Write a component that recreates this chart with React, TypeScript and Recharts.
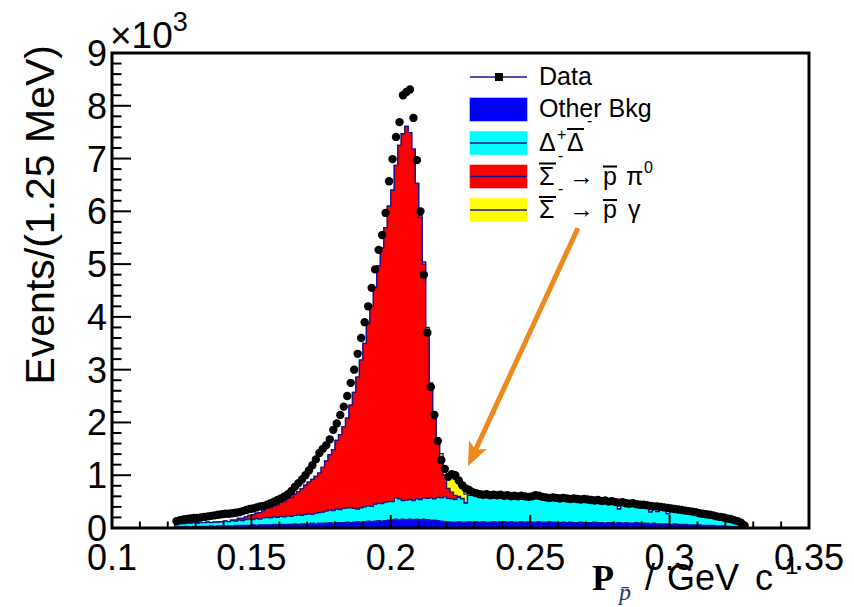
import React from 'react';
import {
  ComposedChart,
  Area,
  Scatter,
  XAxis,
  YAxis,
  ReferenceArea,
  ReferenceLine,
  Legend,
  Label,
} from 'recharts';

// ---------- data (values in units of 10^3 events per 1.25 MeV bin) ----------
const BIN_START = 0.1225;
const BIN_WIDTH = 0.00125;

const dataEvents = [
  0.13, 0.15, 0.16, 0.17, 0.18, 0.19, 0.19, 0.2, 0.21, 0.22,
  0.23, 0.24, 0.25, 0.26, 0.27, 0.27, 0.28, 0.29, 0.3, 0.32,
  0.34, 0.36, 0.37, 0.39, 0.41, 0.42, 0.44, 0.47, 0.5, 0.53,
  0.56, 0.6, 0.64, 0.7, 0.78, 0.85, 0.92, 1.0, 1.09, 1.19,
  1.3, 1.42, 1.5, 1.57, 1.68, 1.86, 1.98, 2.14, 2.3, 2.5,
  2.75, 3.0, 3.3, 3.6, 3.9, 4.2, 4.55, 4.9, 5.27, 5.55,
  5.97, 6.57, 6.99, 7.41, 7.69, 8.2, 8.26, 8.31, 7.77, 6.97,
  6.0, 4.8, 3.7, 2.67, 2.14, 1.65, 1.29, 1.12, 0.97, 1.02,
  1.0, 0.9, 0.81, 0.75, 0.72, 0.68, 0.66, 0.64, 0.63, 0.64,
  0.62, 0.63, 0.62, 0.63, 0.61, 0.62, 0.6, 0.61, 0.6, 0.61,
  0.6, 0.59, 0.6, 0.62, 0.61, 0.59, 0.58, 0.57, 0.58, 0.57,
  0.56, 0.57, 0.56, 0.55, 0.56, 0.55, 0.54, 0.55, 0.54, 0.53,
  0.52, 0.53, 0.51, 0.52, 0.5, 0.51, 0.49, 0.48, 0.49, 0.47,
  0.46, 0.47, 0.45, 0.44, 0.44, 0.43, 0.42, 0.41, 0.41, 0.4,
  0.39, 0.38, 0.37, 0.36, 0.35, 0.34, 0.33, 0.32, 0.31, 0.3,
  0.28, 0.27, 0.26, 0.25, 0.24, 0.22, 0.21, 0.2, 0.18, 0.17,
  0.15, 0.13, 0.1, 0.05,
];

// stack heights (top edge of each layer of the stacked MC histogram)
const otherBkgTop = [
  0.02, 0.02, 0.02, 0.03, 0.02, 0.03, 0.03, 0.03, 0.03, 0.03,
  0.04, 0.03, 0.04, 0.04, 0.04, 0.04, 0.04, 0.05, 0.05, 0.05,
  0.05, 0.05, 0.06, 0.05, 0.06, 0.06, 0.06, 0.06, 0.07, 0.06,
  0.07, 0.07, 0.07, 0.07, 0.08, 0.07, 0.08, 0.08, 0.08, 0.09,
  0.08, 0.09, 0.09, 0.09, 0.1, 0.09, 0.1, 0.1, 0.1, 0.11,
  0.1, 0.11, 0.12, 0.11, 0.12, 0.13, 0.12, 0.13, 0.14, 0.13,
  0.14, 0.15, 0.16, 0.17, 0.16, 0.17, 0.16, 0.17, 0.16, 0.17,
  0.16, 0.17, 0.16, 0.15, 0.15, 0.14, 0.13, 0.12, 0.12, 0.11,
  0.11, 0.12, 0.11, 0.11, 0.12, 0.11, 0.12, 0.11, 0.12, 0.11,
  0.11, 0.12, 0.11, 0.12, 0.12, 0.11, 0.12, 0.11, 0.11, 0.12,
  0.11, 0.12, 0.11, 0.11, 0.12, 0.11, 0.11, 0.12, 0.11, 0.11,
  0.1, 0.11, 0.1, 0.11, 0.1, 0.1, 0.11, 0.1, 0.1, 0.1,
  0.11, 0.1, 0.1, 0.09, 0.1, 0.1, 0.09, 0.1, 0.09, 0.1,
  0.09, 0.09, 0.1, 0.09, 0.09, 0.09, 0.08, 0.09, 0.08, 0.08,
  0.08, 0.08, 0.07, 0.08, 0.07, 0.07, 0.07, 0.06, 0.06, 0.06,
  0.06, 0.05, 0.05, 0.05, 0.05, 0.04, 0.04, 0.04, 0.03, 0.03,
  0.03, 0.02, 0.02, 0.01,
];

const deltaTop = [
  0.06, 0.08, 0.08, 0.09, 0.09, 0.1, 0.09, 0.1, 0.1, 0.11,
  0.1, 0.11, 0.11, 0.12, 0.13, 0.12, 0.14, 0.13, 0.15, 0.14,
  0.16, 0.17, 0.16, 0.18, 0.17, 0.19, 0.2, 0.19, 0.21, 0.2,
  0.22, 0.21, 0.23, 0.22, 0.24, 0.25, 0.24, 0.26, 0.27, 0.26,
  0.28, 0.29, 0.3, 0.32, 0.34, 0.33, 0.36, 0.35, 0.37, 0.38,
  0.38, 0.37, 0.36, 0.38, 0.4, 0.42, 0.41, 0.45, 0.47, 0.46,
  0.49, 0.5, 0.5, 0.57, 0.55, 0.52, 0.53, 0.54, 0.52, 0.55,
  0.54, 0.57, 0.56, 0.57, 0.55, 0.58, 0.57, 0.59, 0.56, 0.55,
  0.54, 0.58, 0.55, 0.47, 0.62, 0.64, 0.63, 0.62, 0.6, 0.62,
  0.6, 0.61, 0.6, 0.62, 0.59, 0.6, 0.59, 0.6, 0.58, 0.6,
  0.59, 0.57, 0.6, 0.65, 0.64, 0.57, 0.57, 0.55, 0.56, 0.55,
  0.51, 0.52, 0.51, 0.5, 0.51, 0.5, 0.49, 0.5, 0.49, 0.48,
  0.47, 0.48, 0.46, 0.47, 0.45, 0.46, 0.44, 0.36, 0.44, 0.42,
  0.41, 0.42, 0.4, 0.39, 0.39, 0.38, 0.3, 0.36, 0.31, 0.35,
  0.34, 0.27, 0.32, 0.31, 0.3, 0.29, 0.28, 0.27, 0.26, 0.25,
  0.23, 0.22, 0.21, 0.2, 0.19, 0.17, 0.16, 0.15, 0.13, 0.12,
  0.1, 0.08, 0.06, 0.03,
];

const sigmaPi0Top = [
  0.06, 0.08, 0.08, 0.09, 0.09, 0.1, 0.09, 0.1, 0.1, 0.11,
  0.1, 0.11, 0.11, 0.12, 0.13, 0.12, 0.15, 0.15, 0.18, 0.18,
  0.21, 0.24, 0.25, 0.28, 0.29, 0.33, 0.37, 0.38, 0.42, 0.44,
  0.49, 0.51, 0.56, 0.58, 0.64, 0.69, 0.74, 0.81, 0.87, 0.92,
  0.98, 1.04, 1.15, 1.27, 1.39, 1.48, 1.66, 1.77, 1.92, 2.08,
  2.33, 2.57, 2.86, 3.18, 3.5, 3.87, 4.21, 4.55, 4.97, 5.31,
  5.69, 6.1, 6.4, 6.87, 7.25, 7.47, 7.61, 7.49, 7.18, 6.53,
  5.89, 5.0, 3.75, 2.7, 2.14, 1.6, 1.29, 1.0, 0.75, 0.68,
  0.62, 0.6, 0.56, 0.48, 0.62, 0.64, 0.63, 0.62, 0.6, 0.62,
  0.6, 0.61, 0.6, 0.62, 0.59, 0.6, 0.59, 0.6, 0.58, 0.6,
  0.59, 0.57, 0.6, 0.65, 0.64, 0.57, 0.57, 0.55, 0.56, 0.55,
  0.51, 0.52, 0.51, 0.5, 0.51, 0.5, 0.49, 0.5, 0.49, 0.48,
  0.47, 0.48, 0.46, 0.47, 0.45, 0.46, 0.44, 0.36, 0.44, 0.42,
  0.41, 0.42, 0.4, 0.39, 0.39, 0.38, 0.3, 0.36, 0.31, 0.35,
  0.34, 0.27, 0.32, 0.31, 0.3, 0.29, 0.28, 0.27, 0.26, 0.25,
  0.23, 0.22, 0.21, 0.2, 0.19, 0.17, 0.16, 0.15, 0.13, 0.12,
  0.1, 0.08, 0.06, 0.03,
];

const sigmaGammaTop = [
  0.06, 0.08, 0.08, 0.09, 0.09, 0.1, 0.09, 0.1, 0.1, 0.11,
  0.1, 0.11, 0.11, 0.12, 0.13, 0.12, 0.15, 0.15, 0.18, 0.18,
  0.21, 0.24, 0.25, 0.28, 0.29, 0.33, 0.37, 0.38, 0.42, 0.44,
  0.49, 0.51, 0.56, 0.58, 0.64, 0.69, 0.74, 0.81, 0.87, 0.92,
  0.98, 1.04, 1.15, 1.27, 1.39, 1.48, 1.66, 1.77, 1.92, 2.08,
  2.33, 2.57, 2.86, 3.18, 3.5, 3.87, 4.21, 4.55, 4.97, 5.31,
  5.69, 6.1, 6.4, 6.87, 7.25, 7.47, 7.61, 7.49, 7.18, 6.53,
  5.92, 5.04, 3.8, 2.75, 2.2, 1.68, 1.41, 1.15, 0.95, 0.96,
  0.92, 0.9, 0.76, 0.64, 0.67, 0.66, 0.63, 0.62, 0.6, 0.62,
  0.6, 0.61, 0.6, 0.62, 0.59, 0.6, 0.59, 0.6, 0.58, 0.6,
  0.59, 0.57, 0.6, 0.65, 0.64, 0.57, 0.57, 0.55, 0.56, 0.55,
  0.51, 0.52, 0.51, 0.5, 0.51, 0.5, 0.49, 0.5, 0.49, 0.48,
  0.47, 0.48, 0.46, 0.47, 0.45, 0.46, 0.44, 0.36, 0.44, 0.42,
  0.41, 0.42, 0.4, 0.39, 0.39, 0.38, 0.3, 0.36, 0.31, 0.35,
  0.34, 0.27, 0.32, 0.31, 0.3, 0.29, 0.28, 0.27, 0.26, 0.25,
  0.23, 0.22, 0.21, 0.2, 0.19, 0.17, 0.16, 0.15, 0.13, 0.12,
  0.1, 0.08, 0.06, 0.03,
];

const xMajorTicks = [0.1, 0.15, 0.2, 0.25, 0.3, 0.35];
const xMinorTicks = [
  0.11, 0.12, 0.13, 0.14, 0.16, 0.17, 0.18, 0.19, 0.21, 0.22,
  0.23, 0.24, 0.26, 0.27, 0.28, 0.29, 0.31, 0.32, 0.33, 0.34,
];
const yMajorTicks = [0, 1, 2, 3, 4, 5, 6, 7, 8, 9];
const yMinorTicks = [
  0.2, 0.4, 0.6, 0.8, 1.2, 1.4, 1.6, 1.8, 2.2, 2.4, 2.6, 2.8,
  3.2, 3.4, 3.6, 3.8, 4.2, 4.4, 4.6, 4.8, 5.2, 5.4, 5.6, 5.8,
  6.2, 6.4, 6.6, 6.8, 7.2, 7.4, 7.6, 7.8, 8.2, 8.4, 8.6, 8.8,
];

// annotation arrow (data coordinates)
const arrowFrom = { x: 0.2671, y: 5.68 };
const arrowTo = { x: 0.2277, y: 1.17 };

// ---------- styling ----------
const FONT = '"Liberation Sans", Arial, Helvetica, sans-serif';
const SERIF = '"Liberation Serif", "Times New Roman", serif';
const NAVY = '#14148a';
const C_BLUE = '#0000ff';
const C_CYAN = '#00ffff';
const C_RED = '#ff0000';
const C_YELLOW = '#ffff00';
const C_ARROW = '#ec8a1d';

// ---------- rows built from the arrays ----------
const zeroRow = (x: number) => ({ x, other: 0, delta: 0, spi0: 0, sgam: 0 });
const histRows = [
  zeroRow(0.1),
  ...dataEvents.map((_, i) => ({
    x: BIN_START + i * BIN_WIDTH,
    other: otherBkgTop[i],
    delta: deltaTop[i],
    spi0: sigmaPi0Top[i],
    sgam: sigmaGammaTop[i],
  })),
  zeroRow(BIN_START + dataEvents.length * BIN_WIDTH),
  zeroRow(0.35),
];
const pointRows = dataEvents.map((v, i) => ({
  x: BIN_START + (i + 0.5) * BIN_WIDTH,
  ev: v,
}));

const xTicks = [...xMajorTicks, ...xMinorTicks].sort((a, b) => a - b);
const yTicks = [...yMajorTicks, ...yMinorTicks].sort((a, b) => a - b);

const isMajor = (list: number[], v: number) => list.some((m) => Math.abs(m - v) < 1e-9);

const XTick = (props: any) => {
  const { x, y, payload } = props;
  const v = payload.value;
  const major = isMajor(xMajorTicks, v);
  return (
    <g>
      <line x1={x} x2={x} y1={y} y2={y - (major ? 13 : 6.5)} stroke="#000" strokeWidth={2} />
      {major && (
        <text x={x} y={y + 42} textAnchor="middle" fontSize={36} fontFamily={FONT} fill="#000">
          {String(v)}
        </text>
      )}
    </g>
  );
};

const YTick = (props: any) => {
  const { x, y, payload } = props;
  const v = payload.value;
  const major = isMajor(yMajorTicks, v);
  return (
    <g>
      <line x1={x} x2={x + (major ? 19 : 9.5)} y1={y} y2={y} stroke="#000" strokeWidth={2} />
      {major && (
        <text x={x - 5} y={y + 13} textAnchor="end" fontSize={36} fontFamily={FONT} fill="#000">
          {String(v)}
        </text>
      )}
    </g>
  );
};

const YTitle = (props: any) => {
  const vb = props.viewBox || { x: 0, y: 45, width: 104, height: 475 };
  const ax = vb.x + vb.width;
  const tx = vb.x + 46;
  const ty = vb.y - 8;
  return (
    <g>
      <text
        x={tx}
        y={ty}
        transform={`rotate(-90 ${tx} ${ty})`}
        textAnchor="end"
        fontSize={41}
        fontFamily={FONT}
        fill="#000"
      >
        Events/(1.25 MeV)
      </text>
      <text x={ax - 2} y={vb.y - 5} fontSize={37} fontFamily={FONT} fill="#000">
        ×10
        <tspan fontSize={27} dy={-17}>3</tspan>
      </text>
    </g>
  );
};

const XTitle = (props: any) => {
  const vb = props.viewBox || { x: 104, y: 520, width: 697, height: 79 };
  const x0 = vb.x + vb.width - 217;
  const base = vb.y + 62;
  return (
    <g fill="#000">
      <text x={x0} y={base} fontSize={36} fontFamily={SERIF} fontWeight="bold">P</text>
      <text x={x0 + 27} y={base + 10} fontSize={24} fontFamily={SERIF} fontStyle="italic" fill="#2a3470">
        p̄
      </text>
      <text x={x0 + 53} y={base} fontSize={36} fontFamily={FONT}>/</text>
      <text x={x0 + 75} y={base} fontSize={36} fontFamily={FONT}>GeV</text>
      <text x={x0 + 163} y={base} fontSize={36} fontFamily={FONT}>c</text>
      <text x={x0 + 185} y={base - 16} fontSize={24} fontFamily={FONT}>-1</text>
    </g>
  );
};

const DataDot = (props: any) => {
  const { cx, cy } = props;
  if (cx == null || cy == null) return null;
  return <circle cx={cx} cy={cy} r={4.2} fill="#000" />;
};

const ArrowShape = (props: any) => {
  const { x1, y1, x2, y2 } = props;
  if ([x1, y1, x2, y2].some((v) => v == null || Number.isNaN(v))) return null;
  const dx = x2 - x1;
  const dy = y2 - y1;
  const len = Math.sqrt(dx * dx + dy * dy) || 1;
  const ux = dx / len;
  const uy = dy / len;
  const head = 24;
  const half = 10;
  const bx = x2 - ux * head;
  const by = y2 - uy * head;
  const px = -uy;
  const py = ux;
  const nx = x2 - ux * (head - 6);
  const ny = y2 - uy * (head - 6);
  return (
    <g>
      <line x1={x1} y1={y1} x2={nx} y2={ny} stroke={C_ARROW} strokeWidth={5} />
      <polygon
        points={`${x2},${y2} ${bx + px * half},${by + py * half} ${nx},${ny} ${bx - px * half},${by - py * half}`}
        fill={C_ARROW}
      />
    </g>
  );
};

const LegendBox = () => {
  const rows = [19, 51.5, 85, 118.5, 152];
  const box = (cy: number, color: string) => (
    <g>
      <rect x={8} y={cy - 11.5} width={57} height={23} fill={color} stroke={color} strokeOpacity={0.6} />
      <line x1={8} x2={65} y1={cy} y2={cy} stroke={NAVY} strokeWidth={1.5} />
    </g>
  );
  const tStyle = { fontSize: 25, fontFamily: FONT, fill: '#000' } as const;
  const sup = { fontSize: 16, fontFamily: FONT, fill: '#000' } as const;
  return (
    <svg width={280} height={180} style={{ display: 'block', overflow: 'visible' }}>
      <line x1={8} x2={65} y1={rows[0]} y2={rows[0]} stroke={NAVY} strokeWidth={1.5} />
      <rect x={33} y={rows[0] - 4} width={8} height={8} fill="#000" />
      <text x={77} y={rows[0] + 8} {...tStyle}>Data</text>

      {box(rows[1], C_BLUE)}
      <text x={77} y={rows[1] + 7} {...tStyle}>Other Bkg</text>

      {box(rows[2], C_CYAN)}
      <text x={77} y={rows[2] + 8} {...tStyle}>Δ</text>
      <text x={95} y={rows[2] - 3} {...sup}>+</text>
      <text x={105} y={rows[2] + 8} {...tStyle}>Δ</text>
      <line x1={105} x2={122} y1={rows[2] - 14} y2={rows[2] - 14} stroke="#000" strokeWidth={2} />
      <text x={125} y={rows[2] - 17} {...sup}>-</text>

      {box(rows[3], C_RED)}
      <text x={77} y={rows[3] + 8} {...tStyle}>Σ</text>
      <line x1={77} x2={94} y1={rows[3] - 13} y2={rows[3] - 13} stroke="#000" strokeWidth={2} />
      <text x={96} y={rows[3] - 16} {...sup}>-</text>
      <text x={107} y={rows[3] + 8} {...tStyle}>→</text>
      <text x={141} y={rows[3] + 8} {...tStyle}>p</text>
      <line x1={141} x2={155} y1={rows[3] - 10} y2={rows[3] - 10} stroke="#000" strokeWidth={2} />
      <text x={164} y={rows[3] + 8} {...tStyle}>π</text>
      <text x={182} y={rows[3] - 4} {...sup}>0</text>

      {box(rows[4], C_YELLOW)}
      <text x={77} y={rows[4] + 8} {...tStyle}>Σ</text>
      <line x1={77} x2={94} y1={rows[4] - 13} y2={rows[4] - 13} stroke="#000" strokeWidth={2} />
      <text x={96} y={rows[4] - 16} {...sup}>-</text>
      <text x={107} y={rows[4] + 8} {...tStyle}>→</text>
      <text x={141} y={rows[4] + 8} {...tStyle}>p</text>
      <line x1={141} x2={155} y1={rows[4] - 10} y2={rows[4] - 10} stroke="#000" strokeWidth={2} />
      <text x={166} y={rows[4] + 8} {...tStyle}>γ</text>
    </svg>
  );
};

export default function App() {
  return (
    <div style={{ width: 846, height: 599 }}>
      <ComposedChart
        width={846}
        height={599}
        data={histRows}
        margin={{ top: 45, right: 45, left: 0, bottom: 0 }}
      >
        <XAxis
          dataKey="x"
          type="number"
          domain={[0.1, 0.35]}
          ticks={xTicks}
          interval={0}
          tick={XTick}
          tickLine={false}
          axisLine={false}
          tickSize={0}
          tickMargin={0}
          height={79}
          allowDataOverflow
        >
          <Label content={XTitle} />
        </XAxis>
        <YAxis
          type="number"
          domain={[0, 9]}
          ticks={yTicks}
          interval={0}
          tick={YTick}
          tickLine={false}
          axisLine={false}
          tickSize={0}
          tickMargin={0}
          width={104}
          allowDataOverflow
        >
          <Label content={YTitle} />
        </YAxis>

        <Area type="stepAfter" dataKey="sgam" fill={C_YELLOW} fillOpacity={1} stroke={NAVY} strokeWidth={1.3} dot={false} activeDot={false} isAnimationActive={false} />
        <Area type="stepAfter" dataKey="spi0" fill={C_RED} fillOpacity={1} stroke={NAVY} strokeWidth={1.3} dot={false} activeDot={false} isAnimationActive={false} />
        <Area type="stepAfter" dataKey="delta" fill={C_CYAN} fillOpacity={1} stroke={NAVY} strokeWidth={1.3} dot={false} activeDot={false} isAnimationActive={false} />
        <Area type="stepAfter" dataKey="other" fill={C_BLUE} fillOpacity={1} stroke={NAVY} strokeWidth={1.3} dot={false} activeDot={false} isAnimationActive={false} />

        <Scatter data={pointRows} dataKey="ev" shape={DataDot} isAnimationActive={false} />

        <ReferenceLine segment={[arrowFrom, arrowTo]} shape={ArrowShape} stroke={C_ARROW} />
        <ReferenceArea x1={0.1} x2={0.35} y1={0} y2={9} fill="none" fillOpacity={0} stroke="#000" strokeWidth={3} />

        <Legend
          content={LegendBox}
          layout="horizontal"
          verticalAlign="middle"
          align="center"
          wrapperStyle={{ left: 454, top: 50, width: 280, height: 180 }}
        />
      </ComposedChart>
    </div>
  );
}
